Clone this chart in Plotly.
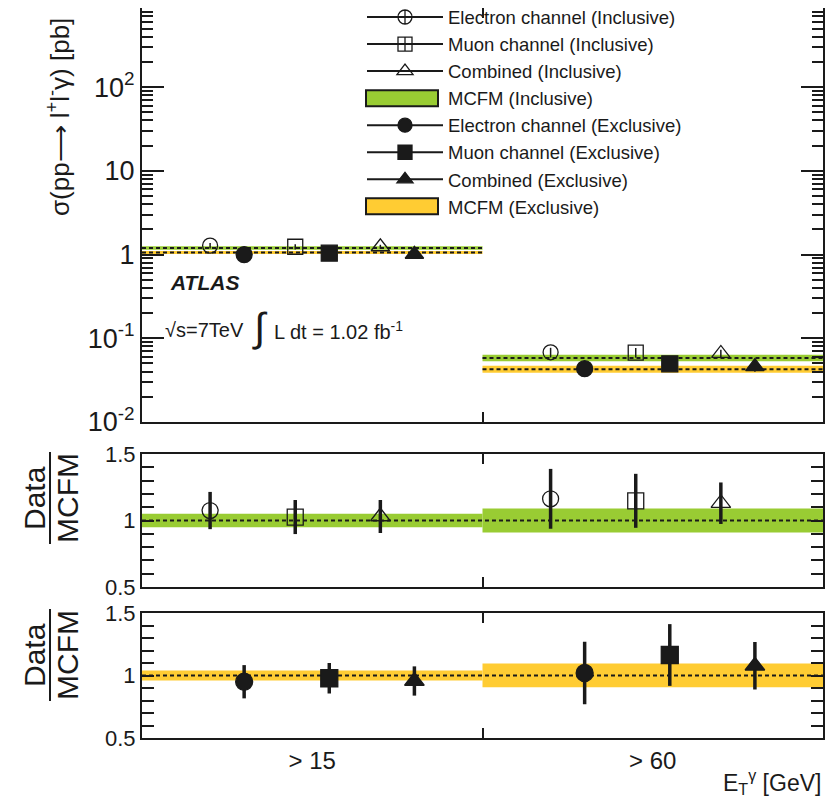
import plotly.graph_objects as go

# ---------------- data ----------------
categories = ["> 15", "> 60"]

# MCFM predictions [pb] and relative uncertainty
mcfm_incl = [1.20, 0.0583]
mcfm_incl_relerr = [0.05, 0.09]
mcfm_excl = [1.06, 0.0428]
mcfm_excl_relerr = [0.04, 0.095]

# measured cross sections [pb]
sig_e_incl = [1.28, 0.068]
sig_e_incl_err = [0.10, 0.009]
sig_mu_incl = [1.24, 0.0676]
sig_mu_incl_err = [0.09, 0.009]
sig_comb_incl = [1.24, 0.0659]
sig_comb_incl_err = [0.07, 0.007]
sig_e_excl = [1.00, 0.0433]
sig_e_excl_err = [0.08, 0.0075]
sig_mu_excl = [1.04, 0.0496]
sig_mu_excl_err = [0.07, 0.007]
sig_comb_excl = [1.01, 0.0458]
sig_comb_excl_err = [0.06, 0.006]

# Data / MCFM ratios
ratio_e_incl = [1.075, 1.163]
ratio_e_incl_err = [0.14, 0.225]
ratio_mu_incl = [1.026, 1.148]
ratio_mu_incl_err = [0.128, 0.203]
ratio_comb_incl = [1.03, 1.13]
ratio_comb_incl_err = [0.124, 0.156]
ratio_e_excl = [0.95, 1.02]
ratio_e_excl_err = [0.133, 0.25]
ratio_mu_excl = [0.978, 1.164]
ratio_mu_excl_err = [0.122, 0.247]
ratio_comb_excl = [0.956, 1.078]
ratio_comb_excl_err = [0.117, 0.19]

# ---------------- style ----------------
W, H = 836, 803
SHIFT = 8            # page offset of the figure inside the browser window
GREEN = "#99cc33"
ORANGE = "#ffcc33"
INK = "#1a1a1a"
FONT = "Liberation Sans, Arial, Helvetica, sans-serif"

# horizontal placement of each series inside a bin
OFF = {"e_incl": 0.2, "e_excl": 0.3, "mu_incl": 0.45, "mu_excl": 0.55,
       "comb_incl": 0.7, "comb_excl": 0.8}

def px(x):
    return (x - SHIFT) / W

def py(y):
    return min(1.0, 1 - (y - SHIFT) / H)

fig = go.Figure()

def xpos(key):
    return [i + OFF[key] for i in range(len(categories))]

def add_band(vals, rel, color, xa, ya, center_line=True):
    for i, v in enumerate(vals):
        lo, hi = v * (1 - rel[i]), v * (1 + rel[i])
        fig.add_trace(go.Scatter(
            x=[i, i + 1, i + 1, i, i], y=[lo, lo, hi, hi, lo],
            mode="lines", fill="toself", fillcolor=color,
            line=dict(width=0, color=color), showlegend=False,
            hoverinfo="skip", xaxis=xa, yaxis=ya))
    if center_line:
        for i, v in enumerate(vals):
            fig.add_trace(go.Scatter(
                x=[i, i + 1], y=[v, v], mode="lines",
                line=dict(color=INK, width=2, dash="4px,3px"),
                showlegend=False, hoverinfo="skip", xaxis=xa, yaxis=ya))

def add_points(key, vals, errs, symbol, xa, ya, size, thick):
    fig.add_trace(go.Scatter(
        x=xpos(key), y=vals, mode="markers",
        marker=dict(symbol=symbol, size=size, color=INK,
                    line=dict(color=INK, width=1.3)),
        error_y=dict(type="data", array=errs, color=INK,
                     thickness=thick, width=0),
        showlegend=False, xaxis=xa, yaxis=ya))

# ---- top panel ----
add_band(mcfm_incl, mcfm_incl_relerr, GREEN, "x", "y")
add_band(mcfm_excl, mcfm_excl_relerr, ORANGE, "x", "y")
add_points("e_incl", sig_e_incl, sig_e_incl_err, "circle-open", "x", "y", 15, 1.5)
add_points("mu_incl", sig_mu_incl, sig_mu_incl_err, "square-open", "x", "y", 15, 1.5)
add_points("comb_incl", sig_comb_incl, sig_comb_incl_err, "triangle-up-open", "x", "y", 16, 1.5)
add_points("e_excl", sig_e_excl, sig_e_excl_err, "circle", "x", "y", 16, 1.5)
add_points("mu_excl", sig_mu_excl, sig_mu_excl_err, "square", "x", "y", 16, 1.5)
add_points("comb_excl", sig_comb_excl, sig_comb_excl_err, "triangle-up", "x", "y", 16, 1.5)

# ---- middle panel (inclusive ratio) ----
add_band([1, 1], mcfm_incl_relerr, GREEN, "x2", "y2", center_line=False)
fig.add_trace(go.Scatter(x=[0, 2], y=[1, 1], mode="lines",
                         line=dict(color=INK, width=2, dash="4px,3px"),
                         showlegend=False, hoverinfo="skip", xaxis="x2", yaxis="y2"))
add_points("e_incl", ratio_e_incl, ratio_e_incl_err, "circle-open", "x2", "y2", 16, 3.5)
add_points("mu_incl", ratio_mu_incl, ratio_mu_incl_err, "square-open", "x2", "y2", 16, 3.5)
add_points("comb_incl", ratio_comb_incl, ratio_comb_incl_err, "triangle-up-open", "x2", "y2", 17, 3.5)

# ---- bottom panel (exclusive ratio) ----
add_band([1, 1], mcfm_excl_relerr, ORANGE, "x3", "y3", center_line=False)
fig.add_trace(go.Scatter(x=[0, 2], y=[1, 1], mode="lines",
                         line=dict(color=INK, width=2, dash="4px,3px"),
                         showlegend=False, hoverinfo="skip", xaxis="x3", yaxis="y3"))
add_points("e_excl", ratio_e_excl, ratio_e_excl_err, "circle", "x3", "y3", 17, 3.5)
add_points("mu_excl", ratio_mu_excl, ratio_mu_excl_err, "square", "x3", "y3", 17, 3.5)
add_points("comb_excl", ratio_comb_excl, ratio_comb_excl_err, "triangle-up", "x3", "y3", 17, 3.5)

# ---- legend entries ----
legend_items = [
    ("Electron channel (Inclusive)", "circle-cross-open", None),
    ("Muon channel (Inclusive)", "square-cross-open", None),
    ("Combined (Inclusive)", "triangle-up-open", None),
    ("MCFM (Inclusive)", None, GREEN),
    ("Electron channel (Exclusive)", "circle", None),
    ("Muon channel (Exclusive)", "square", None),
    ("Combined (Exclusive)", "triangle-up", None),
    ("MCFM (Exclusive)", None, ORANGE),
]
LEG_FONT = 18.5
ROW_H = LEG_FONT * 1.3 + 3
FIRST_ROW = 17                       # screen y of first legend row
LEG_TOP = FIRST_ROW - 5 - ROW_H / 2  # screen y of legend box top
LEG_LEFT = 362
ITEM_W = 76
shapes = []
for k, (name, sym, fillc) in enumerate(legend_items):
    if fillc is None:
        fig.add_trace(go.Scatter(
            x=[None], y=[None], mode="lines+markers", name=name,
            line=dict(color=INK, width=2),
            marker=dict(symbol=sym, size=14, color=INK, line=dict(color=INK, width=1.3))))
    else:
        fig.add_trace(go.Scatter(
            x=[None], y=[None], mode="lines", name=name,
            line=dict(color="rgba(0,0,0,0)", width=0)))
        cy = FIRST_ROW + k * ROW_H
        shapes.append(dict(type="rect", xref="paper", yref="paper",
                           x0=px(LEG_LEFT + 4), x1=px(LEG_LEFT + ITEM_W),
                           y0=py(cy - 8), y1=py(cy + 8),
                           fillcolor=fillc, line=dict(color=INK, width=2),
                           layer="above"))

# ---------------- axes ----------------
XDOM = [px(142), px(823)]
top_dom = [py(422), py(8)]
mid_dom = [py(587), py(454)]
bot_dom = [py(738), py(613)]

frame = dict(showline=True, linecolor=INK, linewidth=2, mirror="ticks",
             showgrid=False, zeroline=False, tickcolor=INK, tickwidth=1.5,
             automargin=False)

xcommon = dict(range=[0, 2], domain=XDOM, tickvals=[0.5, 1.5], ticktext=categories,
               ticks="", minor=dict(tickvals=[1], ticks="inside", ticklen=10,
                                     tickcolor=INK, tickwidth=1.5, showgrid=False),
               **frame)

minor_log = [k * 10.0 ** n for n in range(-2, 3) for k in range(2, 10)]
minor_ratio = [0.6, 0.7, 0.8, 0.9, 1.1, 1.2, 1.3, 1.4]

fig.update_layout(
    template="none",
    width=W, height=H, margin=dict(l=0, r=0, t=0, b=0, pad=0, autoexpand=False),
    paper_bgcolor="white", plot_bgcolor="white",
    font=dict(family=FONT, color=INK),
    xaxis=dict(anchor="y", showticklabels=False, **xcommon),
    xaxis2=dict(anchor="y2", showticklabels=False, **xcommon),
    xaxis3=dict(anchor="y3", showticklabels=True,
                tickfont=dict(size=24, color=INK), **xcommon),
    yaxis=dict(type="log", range=[-2, 2.946], domain=top_dom, anchor="x",
               tickvals=[0.01, 0.1, 1, 10, 100],
               ticktext=["10<sup>-2</sup>", "10<sup>-1</sup>", "1", "10", "10<sup>2</sup>"],
               ticks="inside", ticklen=22, tickfont=dict(size=27, color=INK),
               minor=dict(tickvals=minor_log, ticks="inside", ticklen=11,
                          tickcolor=INK, tickwidth=1.5, showgrid=False),
               **frame),
    yaxis2=dict(range=[0.5, 1.5], domain=mid_dom, anchor="x2",
                tickvals=[0.5, 1, 1.5], ticktext=["0.5", "1", "1.5"],
                ticks="inside", ticklen=12, tickfont=dict(size=22, color=INK),
                minor=dict(tickvals=minor_ratio, ticks="inside", ticklen=12,
                           tickcolor=INK, tickwidth=1.5, showgrid=False),
                **frame),
    yaxis3=dict(range=[0.5, 1.5], domain=bot_dom, anchor="x3",
                tickvals=[0.5, 1, 1.5], ticktext=["0.5", "1", "1.5"],
                ticks="inside", ticklen=12, tickfont=dict(size=22, color=INK),
                minor=dict(tickvals=minor_ratio, ticks="inside", ticklen=12,
                           tickcolor=INK, tickwidth=1.5, showgrid=False),
                **frame),
    legend=dict(x=px(LEG_LEFT), y=1 - (LEG_TOP - SHIFT) / H,
                xanchor="left", yanchor="top",
                bgcolor="rgba(0,0,0,0)", borderwidth=0, itemwidth=ITEM_W,
                font=dict(size=LEG_FONT, color=INK, family=FONT),
                traceorder="normal"),
    showlegend=True,
)

def note(x, y, text, size, xanchor="center", angle=0, yanchor="middle"):
    return dict(x=px(x), y=py(y), xref="paper", yref="paper", text=text,
                xanchor=xanchor, yanchor=yanchor, textangle=angle,
                showarrow=False, font=dict(size=size, color=INK, family=FONT))

ann = [note(59, 117, "σ(pp⟶ l<sup>+</sup>l<sup>-</sup>γ) [pb]", 26, angle=-90)]
for cy in (498, 655):
    ann.append(note(34, cy, "Data", 30, angle=-90))
    ann.append(note(67, cy, "MCFM", 30, angle=-90))
ann.append(note(168, 282, "<b><i>ATLAS</i></b>", 21, xanchor="left"))
ann.append(note(163, 330, "√s=7TeV", 20, xanchor="left"))
ann.append(note(250, 327, "∫", 40, xanchor="left"))
ann.append(note(272, 330, "L dt = 1.02 fb<sup>-1</sup>", 20, xanchor="left"))
ann.append(note(823, 782, "E<sub>T</sub><sup>γ</sup> [GeV]", 23, xanchor="right"))
fig.update_layout(annotations=ann)

for y0, y1 in ((452, 544), (609, 701)):
    shapes.append(dict(type="line", xref="paper", yref="paper",
                       x0=px(50), x1=px(50), y0=py(y0), y1=py(y1),
                       line=dict(color=INK, width=2)))
fig.update_layout(shapes=shapes)

fig.write_html("out.html")
